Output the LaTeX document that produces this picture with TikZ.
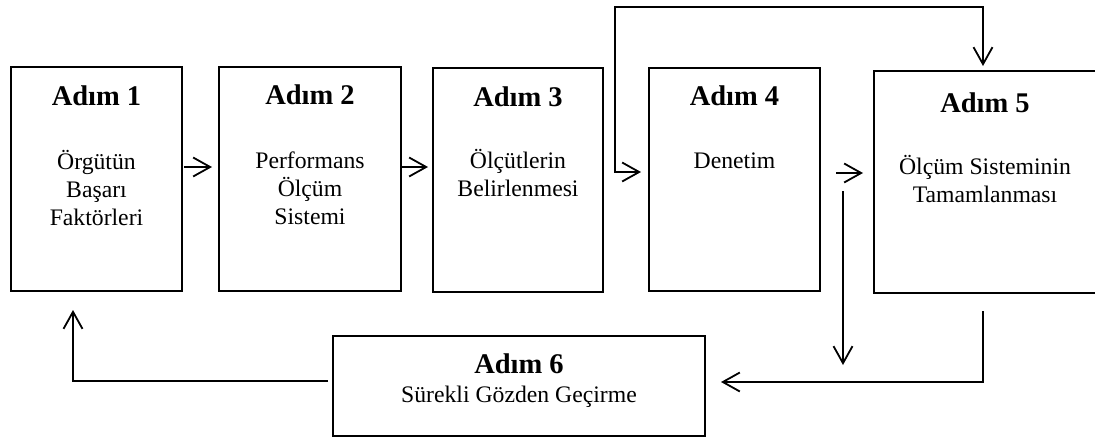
\documentclass[tikz,border=0pt]{standalone}
\usepackage{fontspec}
\setmainfont{Liberation Serif}
\usetikzlibrary{arrows.meta,calc}
\begin{document}
\begin{tikzpicture}[x=1pt,y=-1pt,
  stepbox/.style={draw, line width=1.2pt, inner sep=0pt, outer sep=0pt, anchor=north west},
  title/.style={font=\fontsize{28.5}{30}\selectfont\bfseries, anchor=base, inner sep=0pt},
  body/.style={font=\fontsize{23.7}{28}\selectfont, anchor=base, align=center, inner sep=0pt},
  arr/.style={line width=1.8pt, -{Straight Barb[length=17pt,width=19pt]}},
  dbl/.style={line width=1.8pt, {Straight Barb[length=17pt,width=19pt]}-{Straight Barb[length=17pt,width=19pt]}}]
\useasboundingbox (0,0) rectangle (1095,437);

% step boxes
\node[stepbox, minimum width=171pt, minimum height=224pt] (b1) at (11,67) {};
\node[stepbox, minimum width=182pt, minimum height=224pt] (b2) at (219,67) {};
\node[stepbox, minimum width=170pt, minimum height=224pt] (b3) at (433,68) {};
\node[stepbox, minimum width=171pt, minimum height=223pt] (b4) at (649,68) {};
\node[stepbox, minimum width=224pt, minimum height=222pt] (b5) at (874,71) {};
\node[stepbox, minimum width=372pt, minimum height=100pt] (b6) at (333,336) {};

% titles and descriptions (a description sits on the baseline of its last line)
\node[title] (t1) at (b1.center |- 0,105) {Adım 1};
\node[body]  (d1) at (b1.center |- 0,225) {Örgütün\\Başarı\\Faktörleri};
\node[title] (t2) at (b2.center |- 0,104) {Adım 2};
\node[body]  (d2) at (b2.center |- 0,224) {Performans\\Ölçüm\\Sistemi};
\node[title] (t3) at (b3.center |- 0,106) {Adım 3};
\node[body]  (d3) at (b3.center |- 0,196) {Ölçütlerin\\Belirlenmesi};
\node[title] (t4) at (b4.center |- 0,105) {Adım 4};
\node[body]  (d4) at (b4.center |- 0,168) {Denetim};
\node[title] (t5) at (985,112) {Adım 5};
\node[body]  (d5) at (985,202) {Ölçüm Sisteminin\\Tamamlanması};
\node[title] (t6) at (b6.center |- 0,373) {Adım 6};
\node[body]  (d6) at (b6.center |- 0,402) {Sürekli Gözden Geçirme};

% forward arrows
\draw[arr] ($(b1.east |- 0,167)+(2,0)$) -- ($(b2.west |- 0,167)+(-7,0)$);
\draw[arr] ($(b2.east |- 0,167)+(1,0)$) -- ($(b3.west |- 0,167)+(-5,0)$);
\draw[arr] ($(b4.east |- 0,173)+(16,0)$) -- ($(b5.west |- 0,173)+(-11,0)$);

% loop over step 4 into steps 4 and 5
\coordinate (up) at (615,7);
\draw[dbl] ($(b4.west |- 0,172)+(-8,0)$) -| (up) -| ($(b5.north -| 983,0)+(0,-5)$);

% downward arrow below step 4
\coordinate (dropA) at (843,191);
\coordinate (dropB) at (843,365);
\draw[arr] (dropA) -- (dropB);

% feedback from step 5 to step 6 and from step 6 to step 1
\draw[arr] ($(b5.south -| 983,0)+(0,18)$) |- ($(b6.east |- 0,382)+(16,0)$);
\draw[arr] ($(b6.west |- 0,381)+(-5,0)$) -| ($(b1.south -| 73,0)+(0,19)$);
\end{tikzpicture}
\end{document}
